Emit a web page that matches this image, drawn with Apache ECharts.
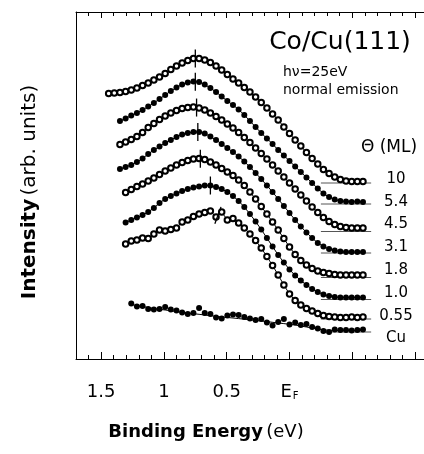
<!DOCTYPE html>
<html><head><meta charset="utf-8">
<script src="https://cdn.jsdelivr.net/npm/echarts@6/dist/echarts.min.js"></script>
<style>html,body{margin:0;padding:0;background:#fff}#c{width:424px;height:454px}</style>
</head><body><div id="c"></div>
<script>
// Binding energy (eV) of the measured points
const energies = [1.44, 1.395, 1.35, 1.305, 1.26, 1.215, 1.17, 1.125, 1.08, 1.035, 0.99, 0.945, 0.9, 0.855, 0.81, 0.765, 0.72, 0.675, 0.63, 0.585, 0.54, 0.495, 0.45, 0.405, 0.36, 0.315, 0.27, 0.225, 0.18, 0.135, 0.09, 0.045, 0, -0.045, -0.09, -0.135, -0.18, -0.225, -0.27, -0.315, -0.36, -0.405, -0.45, -0.495, -0.54, -0.585];

// Coverage labels (ML), top to bottom
const coverages = ['10', '5.4', '4.5', '3.1', '1.8', '1.0', '0.55', 'Cu'];
const filledMarker = [false, true, false, true, false, true, false, true];

// Intensities (arb. units, offset spectra)
const cov10 = [265.5, 266, 266.5, 267.5, 269, 271, 273.5, 276, 279, 282, 285.5, 289.5, 293, 296, 298.5, 300.5, 300.5, 299, 296.5, 293, 289, 284.5, 280, 276, 271.5, 267, 262, 256.5, 251, 245, 239, 232, 225.5, 219, 213, 206.5, 200.5, 195, 189.5, 185.5, 182, 179.5, 178, 177.5, 177.5, 177.5];
const cov54 = [null, null, 238, 240.5, 243.5, 246, 249, 252.5, 256, 260, 264, 268, 271.5, 274.5, 276.5, 277.5, 277, 274.5, 271, 267, 262.5, 258, 254, 249.5, 244, 238, 232, 226, 220.5, 215, 209, 203.5, 198, 192.5, 187, 181.5, 176, 170.5, 165.5, 162, 159.5, 158, 157.5, 157, 157.5, 157];
const cov45 = [null, null, 214.5, 217, 219.5, 222.5, 226.5, 231.5, 235.5, 239.5, 243, 246, 248.5, 250.5, 251.5, 252, 251, 249, 246, 242.5, 239, 235, 231, 226.5, 221.5, 216.5, 211, 205.5, 200, 194, 188, 182, 176, 170, 164, 158, 152, 146.5, 141.5, 137.5, 134.5, 132.5, 131.5, 131, 131, 131];
const cov31 = [null, null, 190, 192, 194, 197, 200.5, 205, 209, 212.5, 216, 219, 222, 224.5, 226, 227, 227, 225.5, 222.5, 219, 215, 211, 207, 202.5, 197.5, 192, 186, 180, 173.5, 167, 160, 153, 146, 139, 132.5, 126.5, 121, 116, 112.5, 110, 108.5, 107.5, 107, 107, 107, 107];
const cov18 = [null, null, null, 166.5, 169.5, 172.5, 175, 178, 181, 184.5, 188, 191, 194, 196.5, 198.5, 200, 200.5, 199.5, 197, 194, 190.5, 187, 183.5, 179, 173.5, 167, 160, 152.5, 145, 137, 129, 120.5, 112, 104.5, 98.5, 94, 90.5, 88, 86.5, 85.5, 84.5, 84, 84, 84, 84, 84];
const cov10ml = [null, null, null, 136.5, 139, 141.5, 144, 147, 151, 156, 160, 163, 165.5, 168, 170, 171.5, 172.5, 173.5, 173.5, 172, 170, 167, 163, 158, 152, 145, 137.5, 129.5, 121, 112.5, 104, 96.5, 89.5, 83.5, 78.5, 74, 70, 67, 64.5, 63, 62, 61.5, 61.5, 61.5, 61.5, 61.5];
const cov055 = [null, null, null, 115, 118, 119, 121, 120.5, 125, 129, 128, 129.5, 131, 137, 139, 142.5, 145, 146.5, 148, 142, 147, 139, 140.5, 136, 131, 125, 118.5, 111, 102.5, 93.5, 84, 74, 65, 58.5, 54, 50.5, 48, 45.5, 43.5, 42.5, 42, 41.5, 41.5, 42, 41.5, 42];
const covCu = [null, null, null, null, 55.5, 52.5, 53, 50, 49.5, 50, 52, 49.5, 48.5, 46.5, 45, 46, 51, 46, 45, 41.5, 40.5, 43.5, 44.5, 44, 42, 40.5, 39, 40, 36.5, 33.5, 37, 40, 34.5, 36.5, 34, 35, 32, 30.5, 28, 27, 29.5, 29, 29, 28.5, 29, 29.5];
const cuFit = [null, null, null, null, 54.5, 53.5, 52.5, 51.5, 50.5, 49.7, 49, 48.2, 47.5, 46.8, 46, 45.3, 44.7, 44, 43.3, 42.7, 42, 41.5, 41, 40.4, 39.8, 39.2, 38.6, 38, 37.4, 36.7, 36, 35.4, 34.7, 34, 33, 32, 31, 30, 29.2, 28.7, 28.5, 28.5, 28.5, 28.5, 28.5, 28.5];

// Peak positions (eV) marked on the spectra 10 ... 0.55
const peakEnergies = [0.75, 0.75, 0.74, 0.73, 0.71, 0.63, 0.57];
const peakTilt = [0, 0, 0, 0, 0, 0, -20];

// Zero-intensity baselines of each spectrum
const baselineLevels = [176, 155, 127.5, 106, 81.5, 59.5, 40, 27];
const baselineRange = [-0.25, -0.65];

// X tick labels
const tickValues = [1.5, 1, 0.5, 0];
const tickTexts = ['1.5', '1', '0.5', '{e|E}{f|F}'];

const spectra = [cov10, cov54, cov45, cov31, cov18, cov10ml, cov055, covCu];

const FONT = '"DejaVu Sans", sans-serif';

function pairs(arr) {
  const out = [];
  arr.forEach((v, i) => { if (v !== null) out.push([energies[i], v]); });
  return out;
}
function valueAt(arr, e) {
  for (let i = 0; i < energies.length - 1; i++) {
    if (energies[i] >= e && e >= energies[i + 1] && arr[i] !== null && arr[i + 1] !== null) {
      const t = (energies[i] - e) / (energies[i] - energies[i + 1]);
      return arr[i] + t * (arr[i + 1] - arr[i]);
    }
  }
  return null;
}

const series = [];
baselineLevels.forEach((b) => {
  series.push({
    type: 'line', data: [[baselineRange[0], b], [baselineRange[1], b]],
    showSymbol: false, lineStyle: { color: '#555', width: 1 }, z: 1, silent: true
  });
});
spectra.forEach((arr, k) => {
  const isCu = coverages[k] === 'Cu';
  series.push({
    type: isCu ? 'scatter' : 'line',
    data: pairs(arr),
    symbol: filledMarker[k] ? 'circle' : 'emptyCircle',
    symbolSize: filledMarker[k] ? 6 : 5.5,
    showAllSymbol: true,
    lineStyle: { color: '#000', width: 1 },
    itemStyle: { color: '#000', borderColor: '#000', borderWidth: filledMarker[k] ? 0 : 1, opacity: 1 },
    z: 3, silent: true
  });
});
series.push({
  type: 'line', data: pairs(cuFit), showSymbol: false,
  lineStyle: { color: '#000', width: 1 }, z: 2, silent: true
});
series.push({
  type: 'scatter', symbol: 'rect', symbolSize: [1.3, 18], z: 4, silent: true,
  itemStyle: { color: '#000', opacity: 1 },
  data: peakEnergies.map((e, k) => ({ value: [e, valueAt(spectra[k], e)], symbolRotate: peakTilt[k] }))
});

const axisBase = { type: 'value', inverse: true, min: -1.5, max: 1.7, splitLine: { show: false } };
const lineBlack = { color: '#000', width: 1 };
const option = {
  animation: false,
  backgroundColor: '#fff',
  grid: { left: 76, top: 12, width: 401.9, height: 347, containLabel: false, outerBoundsMode: 'none' },
  xAxis: [
    Object.assign({}, axisBase, {
      position: 'bottom', interval: 0.5,
      axisLine: { show: true, onZero: false, lineStyle: lineBlack },
      axisTick: { show: true, inside: true, length: 7, lineStyle: lineBlack },
      axisLabel: {
        show: true, margin: 24, color: '#000', fontSize: 18, fontFamily: FONT,
        formatter: (v) => {
          const idx = tickValues.findIndex(t => Math.abs(t - v) < 1e-6);
          return idx >= 0 ? tickTexts[idx] : '';
        },
        rich: {
          e: { fontSize: 18, fontFamily: FONT, color: '#000', lineHeight: 18, verticalAlign: 'top' },
          f: { fontSize: 10, fontFamily: FONT, color: '#000', lineHeight: 10, verticalAlign: 'bottom', padding: [14, 0, 0, 1] }
        }
      }
    }),
    Object.assign({}, axisBase, {
      position: 'bottom', interval: 0.1,
      axisLine: { show: false, onZero: false },
      axisTick: { show: true, inside: true, length: 4, lineStyle: lineBlack },
      axisLabel: { show: false }
    }),
    Object.assign({}, axisBase, {
      position: 'top', interval: 0.5,
      axisLine: { show: true, onZero: false, lineStyle: lineBlack },
      axisTick: { show: true, inside: true, length: 6, lineStyle: lineBlack },
      axisLabel: { show: false }
    }),
    Object.assign({}, axisBase, {
      position: 'top', interval: 0.1,
      axisLine: { show: false, onZero: false },
      axisTick: { show: true, inside: true, length: 4, lineStyle: lineBlack },
      axisLabel: { show: false }
    })
  ],
  yAxis: {
    type: 'value', min: 0, max: 347, position: 'left',
    axisLine: { show: true, onZero: false, lineStyle: lineBlack },
    axisTick: { show: false }, axisLabel: { show: false }, splitLine: { show: false }
  },
  series: series,
  graphic: [
    { type: 'text', x: 340, y: 42, style: { text: 'Co/Cu(111)', font: '25px ' + FONT, fill: '#000', align: 'center', verticalAlign: 'middle' } },
    { type: 'text', x: 283, y: 72, style: { text: 'hν=25eV', font: '14px ' + FONT, fill: '#000', align: 'left', verticalAlign: 'middle' } },
    { type: 'text', x: 283, y: 90, style: { text: 'normal emission', font: '14px ' + FONT, fill: '#000', align: 'left', verticalAlign: 'middle' } },
    { type: 'text', x: 389, y: 148, style: { text: 'Θ (ML)', font: '17px ' + FONT, fill: '#000', align: 'center', verticalAlign: 'middle' } },
    { type: 'text', x: 206, y: 432, style: {
        text: '{b|Binding Energy} {n|(eV)}', align: 'center', verticalAlign: 'middle',
        rich: { b: { fontSize: 18, fontWeight: 'bold', fontFamily: FONT, fill: '#000' }, n: { fontSize: 18, fontFamily: FONT, fill: '#000' } } } },
    { type: 'text', x: 30, y: 192, rotation: Math.PI / 2, style: {
        text: '{b|Intensity} {n|(arb. units)}', align: 'center', verticalAlign: 'middle',
        rich: { b: { fontSize: 20, fontWeight: 'bold', fontFamily: FONT, fill: '#000' }, n: { fontSize: 20, fontFamily: FONT, fill: '#000' } } } }
  ].concat(coverages.map((c, k) => ({
    type: 'text', x: 396, y: 179 + 22.8 * k,
    style: { text: c, font: '15px ' + FONT, fill: '#000', align: 'center', verticalAlign: 'middle' }
  })))
};

const chart = echarts.init(document.getElementById('c'), null, { renderer: 'canvas' });
chart.setOption(option);
</script>
</body></html>
